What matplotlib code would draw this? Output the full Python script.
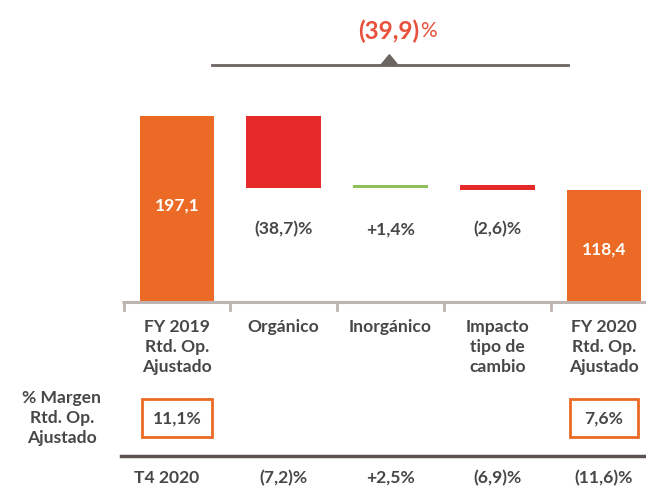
import matplotlib.pyplot as plt
import matplotlib.patches as mpatches
import matplotlib.transforms as mtrans
import numpy as np

# data
categories = ['FY 2019\nRtd. Op.\nAjustado', 'Orgánico', 'Inorgánico',
              'Impacto\ntipo de\ncambio', 'FY 2020\nRtd. Op.\nAjustado']
start_value = 197.1
end_value = 118.4
changes = [-76.3, 2.8, -5.1]
change_labels = ['(38,7)%', '+1,4%', '(2,6)%']
total_change_label = '(39,9)'
margin_labels = ['11,1%', '7,6%']
margin_title = '% Margen\nRtd. Op.\nAjustado'
q4_title = 'T4 2020'
q4_values = ['(7,2)%', '+2,5%', '(6,9)%', '(11,6)%']

ORANGE = '#eb6a25'
RED = '#e52a29'
GREEN = '#8dc05a'
TXT = '#474747'
BRACKET = '#6b6461'
TITLE_RED = '#e8513c'

plt.rcParams['font.family'] = ['Lato', 'DejaVu Sans']
FS = 12.6
WT = 'bold'

W, H = 646, 496
fig = plt.figure(figsize=(W / 100, H / 100), dpi=100)

def fy(px):
    # pixel row (from top) -> figure fraction
    return 1 - px / H

base_px = 302
ax = fig.add_axes([0, fy(base_px), 1, 1 - fy(base_px)])
ax.set_xlim(-1.658, 4.394)
ax.set_ylim(0, 320)
ax.axis('off')

# waterfall
levels = np.concatenate([[start_value], start_value + np.cumsum(changes)])
bw = 0.70
ax.bar(0, start_value, width=bw, color=ORANGE)
for i, d in enumerate(changes):
    lo = min(levels[i], levels[i + 1])
    ax.bar(i + 1, abs(d), bottom=lo, width=bw,
           color=GREEN if d > 0 else RED)
ax.bar(4, end_value, width=bw, color=ORANGE)

ax.text(0, start_value * 0.52, f'{start_value:.1f}'.replace('.', ','),
        ha='center', va='center', color='white', fontsize=FS, fontweight=WT)
ax.text(4, end_value * 0.47, f'{end_value:.1f}'.replace('.', ','),
        ha='center', va='center', color='white', fontsize=FS, fontweight=WT)
for i, lab in enumerate(change_labels):
    ax.text(i + 1, 77, lab, ha='center', va='center', color=TXT,
            fontsize=FS, fontweight=WT)

# axis line + ticks
ax.plot([-0.515, 4.394], [0, 0], color='#bdb3b0', lw=2.2, clip_on=False,
        solid_capstyle='butt')
for t in np.arange(-0.5, 4.0, 1.0):
    ax.plot([t, t], [0, -8], color='#bdb3b0', lw=2, clip_on=False)

# bracket with total change
ax.plot([0.33, 3.66], [251, 251], color=BRACKET, lw=2, clip_on=False)
ax.add_patch(mpatches.Polygon([[1.91, 251], [2.07, 251], [1.99, 262]],
                              closed=True, color=BRACKET, clip_on=False))
ax.text(2.27, 287, total_change_label, ha='right', va='center', color=TITLE_RED,
        fontsize=17.5, fontweight=WT)
ax.annotate('%', xy=(2.27, 287), xycoords='data', ha='left', va='center',
            color=TITLE_RED, fontsize=15, xytext=(0.5, 0), textcoords='offset points')

# lower table
tr = mtrans.blended_transform_factory(ax.transData, fig.transFigure)
for i, c in enumerate(categories):
    ax.text(i, fy(319), c, ha='center', va='top', color=TXT, fontsize=FS,
            fontweight=WT, transform=tr, linespacing=1.3)

fig.text(62 / W, fy(418), margin_title, ha='center', va='center', color=TXT,
         fontsize=FS, fontweight=WT, linespacing=1.3)
for i, lab in zip([0, 4], margin_labels):
    ax.text(i, fy(419), lab, ha='center', va='center', color=TXT,
            fontsize=FS, fontweight=WT, transform=tr)
    bx = 0.655 if i == 0 else 0.63
    ax.add_patch(mpatches.Rectangle((i - bx / 2, fy(437)), bx, fy(399) - fy(437),
                                    fill=False, edgecolor=ORANGE, lw=2,
                                    transform=tr, clip_on=False))

fig.add_artist(plt.Line2D([121 / W, 1], [fy(456), fy(456)], color='#5b5250', lw=2.5))
ax.text(-0.1, fy(478), q4_title, ha='center', va='center', color=TXT,
        fontsize=FS, fontweight=WT, transform=tr)
for i, v in enumerate(q4_values):
    ax.text(i + 1, fy(478), v, ha='center', va='center', color=TXT,
            fontsize=FS, fontweight=WT, transform=tr)

fig.savefig('out.png', dpi=100)
